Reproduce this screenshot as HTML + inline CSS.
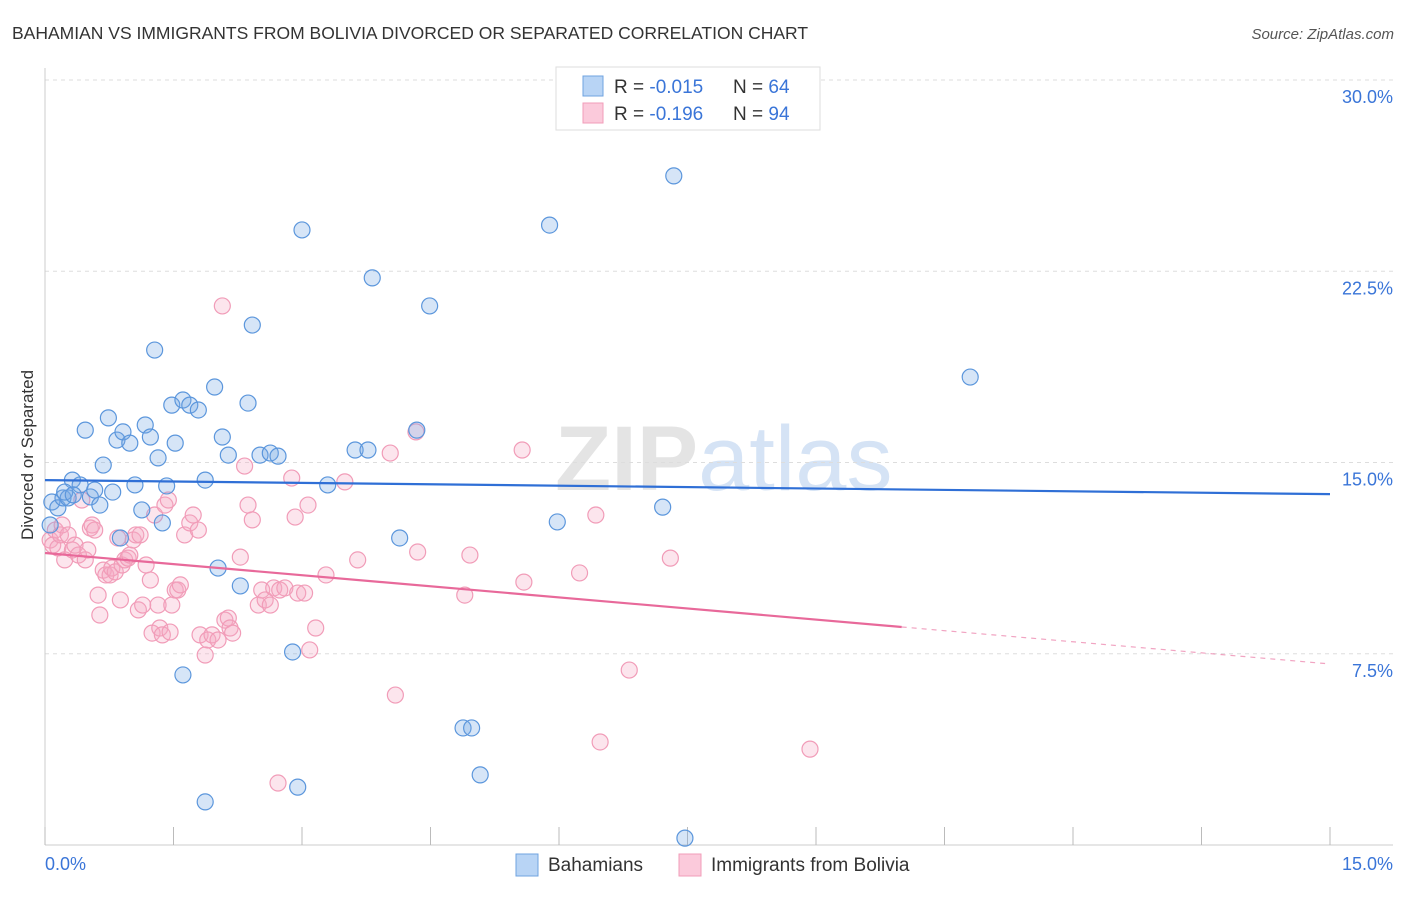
<!DOCTYPE html>
<html><head><meta charset="utf-8">
<style>
body{margin:0;background:#fff;font-family:"Liberation Sans",sans-serif;}
svg text{font-family:"Liberation Sans",sans-serif;}
</style></head>
<body>
<svg id="chart" width="1406" height="892" viewBox="0 0 1406 892" xmlns="http://www.w3.org/2000/svg">
<text x="12" y="39" font-size="17.5" fill="#333">BAHAMIAN VS IMMIGRANTS FROM BOLIVIA DIVORCED OR SEPARATED CORRELATION CHART</text>
<text x="1394" y="39" font-size="15" fill="#555" text-anchor="end" font-style="italic">Source: ZipAtlas.com</text>
<text x="555" y="490" font-size="92" fill="#e4e4e4" font-family="Liberation Serif" font-weight="bold">ZIP<tspan fill="#d5e3f5" font-family="Liberation Sans" font-weight="normal">atlas</tspan></text>
<g id="grid"></g>
<g id="axes"></g>
<g id="pts"></g>
<g id="lines"></g>
<text transform="translate(33,455) rotate(-90)" font-size="17" fill="#333" text-anchor="middle">Divorced or Separated</text>
<g>
<rect x="556" y="67" width="264" height="63" fill="#fff" stroke="#ddd"/>
<rect x="583" y="76" width="20" height="20" fill="#b8d4f5" stroke="#6fa3e0"/>
<rect x="583" y="103" width="20" height="20" fill="#fbcadb" stroke="#f19cb8"/>
<text x="614" y="93" font-size="19" fill="#333">R = <tspan fill="#3a75d8">-0.015</tspan><tspan x="733">N = </tspan><tspan fill="#3a75d8">64</tspan></text>
<text x="614" y="120" font-size="19" fill="#333">R = <tspan fill="#3a75d8"> -0.196</tspan><tspan x="733">N = </tspan><tspan fill="#3a75d8">94</tspan></text>
</g>
<g>
<rect x="516" y="854" width="22" height="22" fill="#b8d4f5" stroke="#6fa3e0"/>
<text x="548" y="871" font-size="19" fill="#333">Bahamians</text>
<rect x="679" y="854" width="22" height="22" fill="#fbcadb" stroke="#f19cb8"/>
<text x="711" y="871" font-size="19" fill="#333">Immigrants from Bolivia</text>
</g>
</svg>
<script>
const xTicks=[0,1.5,3,4.5,6,7.5,9,10.5,12,13.5,15];
const yTicks=[7.5,15,22.5,30];
const yTickLabels=["7.5%","15.0%","22.5%","30.0%"];
const xTickLabels=["0.0%","15.0%"];
const blueX=[0.08,0.15,0.21,0.27,0.32,0.41,0.47,0.53,0.58,0.64,0.68,0.74,0.79,0.84,0.91,0.99,1.05,1.13,1.17,1.23,1.28,1.32,1.37,1.42,1.48,1.52,1.61,1.69,1.79,1.87,1.98,2.02,2.07,2.14,2.28,2.37,2.42,2.51,2.63,2.72,2.89,2.95,3.00,3.30,3.62,3.77,3.82,4.14,4.34,4.49,4.88,4.98,5.08,5.89,5.98,7.21,7.34,7.47,10.80,1.61,1.87,0.06,0.23,0.88,0.33];
const blueY=[13.45,13.22,13.61,13.61,14.31,14.12,16.27,13.65,13.92,13.33,14.90,16.75,13.84,15.88,16.20,15.76,14.12,13.14,16.47,16.00,19.41,15.18,12.63,14.08,17.25,15.76,17.45,17.25,17.06,14.31,17.96,10.86,16.00,15.29,10.16,17.33,20.39,15.29,15.37,15.25,7.57,2.27,24.12,14.12,15.49,15.49,22.24,12.04,16.27,21.14,4.59,4.59,2.75,24.31,12.67,13.25,26.24,0.27,18.35,6.67,1.69,12.55,13.84,12.04,13.73];
const pinkX=[0.06,0.09,0.12,0.15,0.18,0.20,0.23,0.27,0.32,0.35,0.39,0.43,0.47,0.50,0.53,0.55,0.58,0.62,0.64,0.68,0.71,0.76,0.78,0.82,0.85,0.88,0.90,0.93,0.97,0.99,1.03,1.06,1.09,1.11,1.14,1.18,1.23,1.25,1.28,1.32,1.34,1.37,1.40,1.44,1.46,1.48,1.52,1.55,1.58,1.63,1.69,1.73,1.79,1.81,1.87,1.90,1.95,2.02,2.07,2.10,2.14,2.16,2.19,2.28,2.33,2.37,2.42,2.49,2.53,2.57,2.63,2.67,2.72,2.74,2.80,2.88,2.92,2.95,3.03,3.07,3.09,3.16,3.28,3.50,3.65,4.03,4.09,4.35,4.33,4.90,4.96,5.57,5.59,6.24,6.43,6.48,6.82,7.30,8.93];
const pinkY=[11.96,11.76,12.35,11.65,12.16,12.55,11.18,12.16,11.57,11.76,11.37,13.53,11.18,11.57,12.43,12.55,12.35,9.80,9.02,10.78,10.59,10.59,10.86,10.71,12.04,9.61,10.98,11.18,11.25,11.37,11.96,12.16,9.22,12.16,9.41,10.98,10.39,8.31,12.94,9.41,8.51,8.24,13.33,13.53,8.35,9.41,10.00,10.00,10.20,12.16,12.63,12.94,12.35,8.24,7.45,8.04,8.24,8.04,21.14,8.82,8.90,8.51,8.31,11.29,14.86,13.33,12.75,9.41,10.00,9.61,9.41,10.08,2.43,10.00,10.08,14.39,12.86,9.88,9.88,13.33,7.65,8.51,10.59,14.24,11.18,15.37,5.88,11.49,16.20,9.80,11.37,15.49,10.31,10.67,12.94,4.04,6.86,11.25,3.76];
const blueTrend=[14.31,13.76];
const pinkTrend=[11.45,7.10];
const pinkSolidEnd=10.0;

const NS="http://www.w3.org/2000/svg";
const sx=v=>45+v/15*1285;
const sy=v=>845-v/30*765;
function mk(tag,attrs,parent){const e=document.createElementNS(NS,tag);for(const k in attrs)e.setAttribute(k,attrs[k]);parent.appendChild(e);return e;}
const grid=document.getElementById('grid'),axes=document.getElementById('axes'),pts=document.getElementById('pts'),lines=document.getElementById('lines');
yTicks.forEach((t,i)=>{
  const l=mk('line',{x1:45,x2:1393,y1:sy(t),y2:sy(t),stroke:'#ddd','stroke-dasharray':'4,4'},grid);
  
  
  const tx=mk('text',{x:1393,y:sy(t)+23,'font-size':18,fill:'#3a75d8','text-anchor':'end'},axes);
  tx.textContent=yTickLabels[i];
  
  
});
const ax=mk('line',{x1:45,x2:45,y1:68,y2:845,stroke:'#ccc'},axes);


const bx=mk('line',{x1:45,x2:1393,y1:845,y2:845,stroke:'#ccc'},axes);


xTicks.forEach(t=>{
  const l=mk('line',{x1:sx(t),x2:sx(t),y1:827,y2:845,stroke:'#bbb'},axes);
  
  
});
[[0,'start'],[15,'end']].forEach((p,i)=>{
  const tx=mk('text',{x:i?1393:45,y:870,'font-size':18,fill:'#3a75d8','text-anchor':p[1]},axes);
  tx.textContent=xTickLabels[i];
  
  
});
function drawPts(X,Y,fill,stroke,name){
  X.forEach((x,i)=>{
    const c=mk('circle',{cx:sx(x),cy:sy(Y[i]),r:8,fill:fill,stroke:stroke,'stroke-width':1.2},pts);
    
    
  });
}
drawPts(pinkX,pinkY,'rgba(246,168,196,0.3)','#f19cb8','bolivia-point');
drawPts(blueX,blueY,'rgba(120,170,230,0.3)','#5b96dc','bahamian-point');
const bl=mk('line',{x1:sx(0),y1:sy(blueTrend[0]),x2:sx(15),y2:sy(blueTrend[1]),stroke:'#2f6fd6','stroke-width':2.2},lines);


const py=x=>pinkTrend[0]+(pinkTrend[1]-pinkTrend[0])*x/15;
const pl=mk('line',{x1:sx(0),y1:sy(py(0)),x2:sx(pinkSolidEnd),y2:sy(py(pinkSolidEnd)),stroke:'#e8699a','stroke-width':2.2},lines);


const pd=mk('line',{x1:sx(pinkSolidEnd),y1:sy(py(pinkSolidEnd)),x2:sx(15),y2:sy(py(15)),stroke:'#e8699a','stroke-width':1.2,'stroke-dasharray':'5,5',opacity:0.6},lines);


</script>
</body></html>
